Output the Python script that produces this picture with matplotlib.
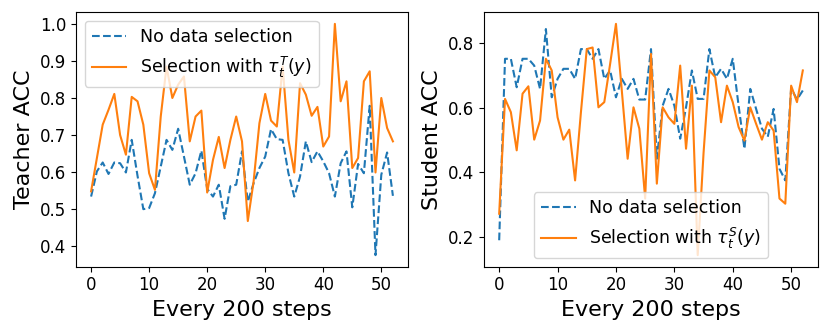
import matplotlib
matplotlib.use("Agg")
import matplotlib.pyplot as plt
import numpy as np

steps = list(range(53))

teacher_no_sel = [0.534, 0.602, 0.626, 0.595, 0.626, 0.624, 0.599, 0.687, 0.59, 0.50,
                  0.503, 0.543, 0.615, 0.687, 0.66, 0.717, 0.642, 0.566, 0.597, 0.658,
                  0.555, 0.534, 0.566, 0.474, 0.562, 0.566, 0.656, 0.52, 0.57, 0.611,
                  0.642, 0.716, 0.689, 0.687, 0.597, 0.534, 0.588, 0.683, 0.627, 0.656,
                  0.629, 0.597, 0.534, 0.624, 0.656, 0.505, 0.622, 0.597, 0.779, 0.376,
                  0.593, 0.653, 0.536]
teacher_sel = [0.548, 0.638, 0.728, 0.768, 0.811, 0.70, 0.647, 0.803, 0.791, 0.728,
               0.597, 0.552, 0.75, 0.885, 0.80, 0.836, 0.858, 0.683, 0.75, 0.766,
               0.545, 0.633, 0.695, 0.611, 0.687, 0.75, 0.683, 0.468, 0.575, 0.732,
               0.811, 0.739, 0.723, 0.885, 0.687, 0.599, 0.84, 0.809, 0.752, 0.776,
               0.669, 0.696, 1.0, 0.791, 0.845, 0.611, 0.638, 0.845, 0.872, 0.599,
               0.80, 0.719, 0.683]

student_no_sel = [0.19, 0.751, 0.751, 0.663, 0.751, 0.751, 0.73, 0.658, 0.843, 0.632,
                  0.689, 0.72, 0.72, 0.689, 0.781, 0.781, 0.751, 0.781, 0.689, 0.715,
                  0.632, 0.689, 0.658, 0.689, 0.625, 0.625, 0.781, 0.442, 0.606, 0.658,
                  0.606, 0.504, 0.601, 0.715, 0.627, 0.627, 0.781, 0.694, 0.72, 0.689,
                  0.751, 0.606, 0.473, 0.658, 0.596, 0.535, 0.51, 0.596, 0.411, 0.375,
                  0.66, 0.625, 0.653]
student_sel = [0.272, 0.627, 0.586, 0.468, 0.643, 0.666, 0.501, 0.56, 0.751, 0.715,
               0.57, 0.501, 0.532, 0.375, 0.586, 0.781, 0.786, 0.601, 0.617, 0.735,
               0.859, 0.653, 0.442, 0.601, 0.535, 0.319, 0.766, 0.365, 0.601, 0.57,
               0.55, 0.73, 0.473, 0.668, 0.144, 0.46, 0.715, 0.694, 0.555, 0.668,
               0.617, 0.54, 0.498, 0.601, 0.55, 0.501, 0.555, 0.529, 0.319, 0.303,
               0.668, 0.617, 0.715]

label_no = "No data selection"
label_teacher = r"Selection with $\tau_t^T(y)$"
label_student = r"Selection with $\tau_t^S(y)$"

fig = plt.figure(figsize=(8.3, 3.32), dpi=100)
ax1 = fig.add_axes([76/830, 1-266.7/332, 332/830, 254.4/332])
ax2 = fig.add_axes([484/830, 1-266.7/332, 334/830, 254.4/332])

ax1.plot(steps, teacher_no_sel, "--", color="C0", lw=1.5, label=label_no)
ax1.plot(steps, teacher_sel, "-", color="C1", lw=1.5, label=label_teacher)
ax1.set_ylabel("Teacher ACC", fontsize=16)
ax1.set_xlabel("Every 200 steps", fontsize=16)
ax1.legend(loc="upper left", fontsize=12.5)

ax2.plot(steps, student_no_sel, "--", color="C0", lw=1.5, label=label_no)
ax2.plot(steps, student_sel, "-", color="C1", lw=1.5, label=label_student)
ax2.set_ylabel("Student ACC", fontsize=16)
ax2.set_xlabel("Every 200 steps", fontsize=16)
ax2.legend(loc="lower center", fontsize=12.5)

for ax in (ax1, ax2):
    ax.tick_params(labelsize=12)
    ax.set_xticks([0, 10, 20, 30, 40, 50])
ax1.set_yticks([0.4, 0.5, 0.6, 0.7, 0.8, 0.9, 1.0])
ax2.set_yticks([0.2, 0.4, 0.6, 0.8])

fig.savefig("out.png", dpi=100)
